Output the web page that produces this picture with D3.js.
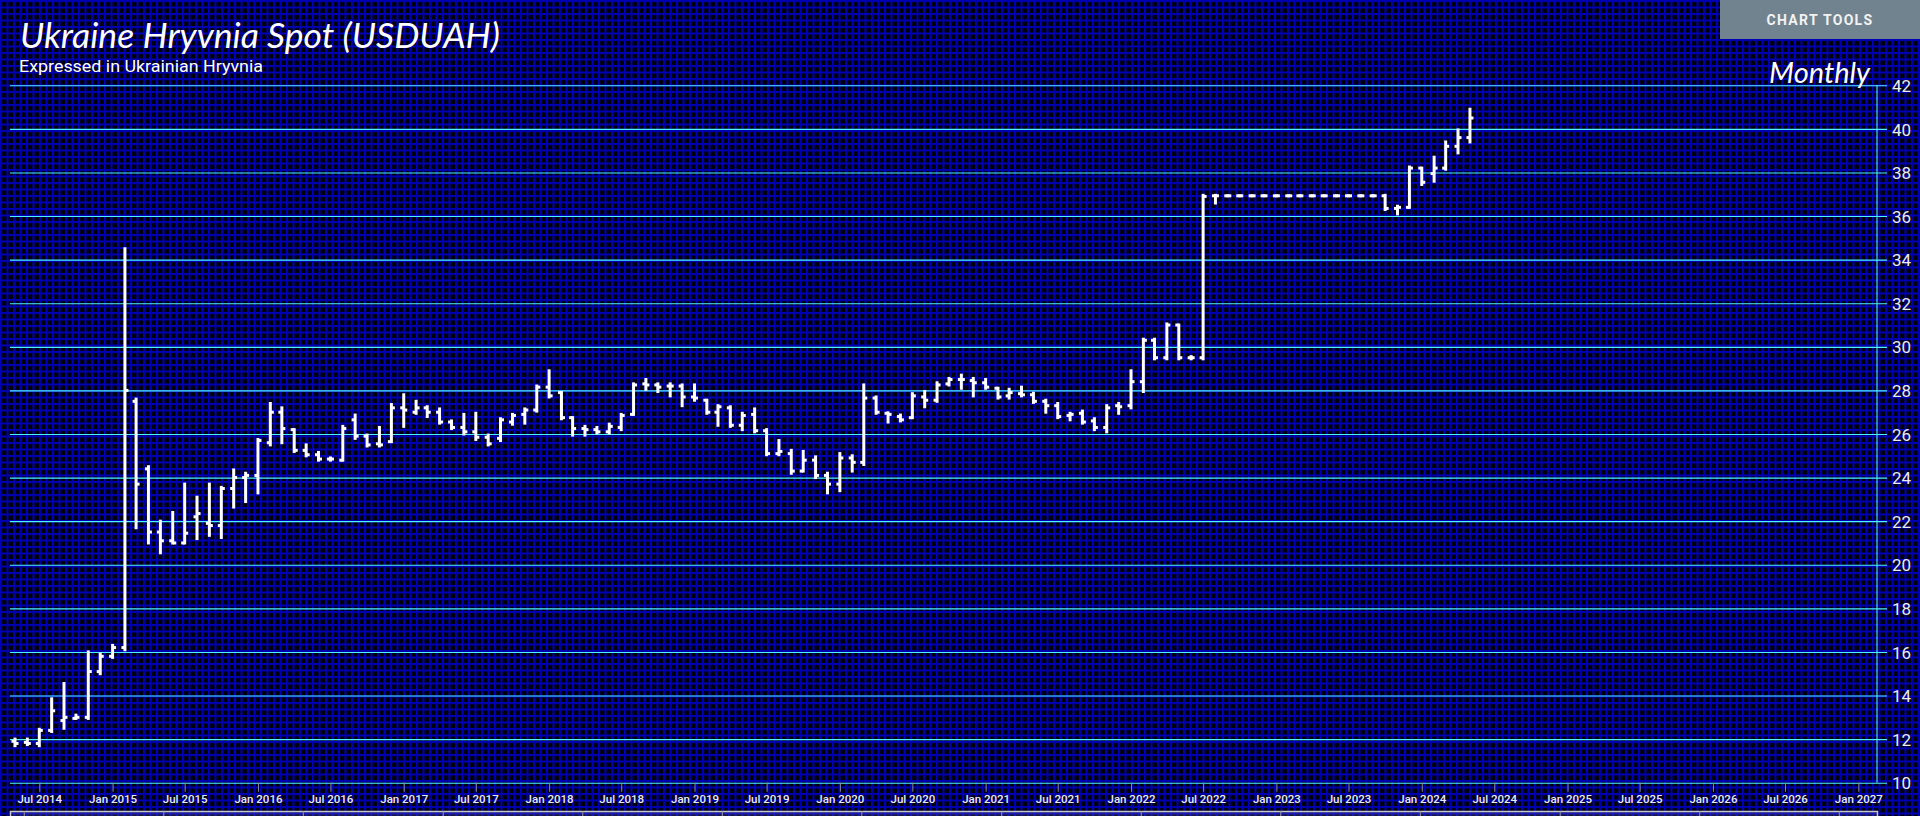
<!DOCTYPE html>
<html><head><meta charset="utf-8">
<script src="https://cdn.jsdelivr.net/npm/d3@7"></script>
<style>
html,body{margin:0;padding:0;background:#000;overflow:hidden;}
svg{display:block;}
</style></head><body>
<svg id="chart" width="1920" height="816"></svg>
<script>
// ---------- DATA ----------
const months = [
"2014-05","2014-06","2014-07","2014-08","2014-09","2014-10","2014-11","2014-12",
"2015-01","2015-02","2015-03","2015-04","2015-05","2015-06","2015-07","2015-08","2015-09","2015-10","2015-11","2015-12",
"2016-01","2016-02","2016-03","2016-04","2016-05","2016-06","2016-07","2016-08","2016-09","2016-10","2016-11","2016-12",
"2017-01","2017-02","2017-03","2017-04","2017-05","2017-06","2017-07","2017-08","2017-09","2017-10","2017-11","2017-12",
"2018-01","2018-02","2018-03","2018-04","2018-05","2018-06","2018-07","2018-08","2018-09","2018-10","2018-11","2018-12",
"2019-01","2019-02","2019-03","2019-04","2019-05","2019-06","2019-07","2019-08","2019-09","2019-10","2019-11","2019-12",
"2020-01","2020-02","2020-03","2020-04","2020-05","2020-06","2020-07","2020-08","2020-09","2020-10","2020-11","2020-12",
"2021-01","2021-02","2021-03","2021-04","2021-05","2021-06","2021-07","2021-08","2021-09","2021-10","2021-11","2021-12",
"2022-01","2022-02","2022-03","2022-04","2022-05","2022-06","2022-07","2022-08","2022-09","2022-10","2022-11","2022-12",
"2023-01","2023-02","2023-03","2023-04","2023-05","2023-06","2023-07","2023-08","2023-09","2023-10","2023-11","2023-12",
"2024-01","2024-02","2024-03","2024-04","2024-05"];
const openVals = [
11.9,11.85,11.8,12.4,12.85,12.95,13.0,15.1,
15.8,16.2,27.5,24.4,21.5,21.1,21.0,22.2,21.9,21.8,23.5,24.0,
24.1,25.6,27.0,26.2,25.25,25.05,24.85,24.8,26.65,25.9,25.55,25.65,
27.2,27.0,27.2,27.0,26.55,26.3,26.1,25.85,25.8,26.55,26.9,27.1,
28.15,27.9,26.75,26.25,26.2,26.1,26.3,26.9,28.3,28.25,28.2,28.2,
27.7,27.55,27.0,27.2,26.4,26.9,26.15,25.1,25.1,24.3,24.8,24.1,
23.7,24.9,24.7,27.65,26.95,26.8,26.75,27.7,27.55,28.3,28.5,28.45,
28.35,28.1,27.75,27.85,27.8,27.5,27.3,26.85,26.95,26.6,26.3,27.3,
27.3,28.4,30.3,29.5,31.0,29.5,29.5,36.93,36.93,36.93,36.93,36.93,
36.93,36.93,36.93,36.93,36.93,36.93,36.93,36.93,36.93,36.93,36.35,36.4,
38.2,37.95,38.2,39.2,39.6];
const highVals = [
12.0,12.0,12.45,13.85,14.55,13.1,16.0,15.9,
16.3,34.5,27.6,24.5,22.0,22.4,23.7,23.1,23.7,23.55,24.35,24.2,
25.75,27.4,27.2,26.2,25.5,25.15,24.9,26.35,26.87,25.95,26.3,27.35,
27.8,27.5,27.25,27.15,26.6,26.9,26.95,25.95,26.7,26.9,27.15,28.2,
28.9,27.9,26.75,26.35,26.3,26.45,26.9,28.3,28.5,28.3,28.3,28.25,
28.25,27.55,27.3,27.25,26.95,27.15,26.2,25.7,25.25,25.2,24.95,24.2,
25.1,25.0,28.25,27.7,26.97,26.87,27.85,27.95,28.35,28.55,28.7,28.55,
28.5,28.1,28.05,28.15,27.87,27.55,27.4,26.95,27.05,26.7,27.3,27.4,
28.9,30.35,30.35,31.05,31.0,29.55,36.95,36.95,36.93,36.93,36.93,36.93,
36.93,36.93,36.93,36.93,36.93,36.93,36.93,36.93,36.93,36.95,36.45,38.25,
38.2,38.7,39.4,39.95,40.9];
const lowVals = [
11.7,11.75,11.7,12.35,12.5,12.95,12.95,15.0,
15.75,16.1,21.7,21.0,20.55,21.0,21.0,21.2,21.35,21.25,22.65,22.9,
23.3,25.5,25.6,25.2,25.0,24.8,24.8,24.8,25.8,25.45,25.45,25.65,
26.35,26.95,26.8,26.5,26.25,26.0,25.75,25.5,25.7,26.45,26.5,27.05,
27.7,26.7,25.95,25.95,26.05,26.05,26.2,26.9,28.05,27.95,27.75,27.3,
27.55,26.95,26.4,26.35,26.2,26.1,25.05,25.05,24.2,24.3,24.0,23.3,
23.4,24.3,24.6,26.95,26.55,26.6,26.75,27.25,27.5,28.25,28.1,27.75,
28.1,27.65,27.65,27.75,27.45,27.0,26.75,26.65,26.5,26.2,26.1,26.95,
27.2,27.95,29.45,29.45,29.45,29.45,29.45,36.6,36.93,36.93,36.93,36.93,
36.93,36.93,36.93,36.93,36.93,36.93,36.93,36.93,36.93,36.3,36.1,36.4,
37.45,37.6,38.15,38.9,39.4];
const closeVals = [
11.8,11.8,12.4,13.3,13.0,13.0,15.1,15.8,
16.2,28.0,23.7,21.5,21.1,21.0,21.45,22.35,21.8,23.5,24.0,24.1,
25.7,27.0,26.25,25.25,25.05,24.85,24.85,26.25,25.9,25.5,25.5,27.2,
27.1,27.2,27.0,26.55,26.3,26.1,25.85,25.55,26.65,26.85,27.1,28.15,
27.75,26.75,26.25,26.2,26.1,26.35,26.85,28.25,28.25,28.15,28.2,27.7,
27.65,27.0,27.25,26.4,26.85,26.15,25.1,25.2,24.3,24.8,24.1,23.7,
24.9,24.7,27.65,27.0,26.9,26.65,27.75,27.55,28.25,28.5,28.5,28.35,
28.15,27.7,27.9,27.8,27.5,27.3,26.8,26.9,26.55,26.3,27.2,27.25,
28.4,30.3,29.5,31.0,29.5,29.5,36.9,36.93,36.93,36.93,36.93,36.93,
36.93,36.93,36.93,36.93,36.93,36.93,36.93,36.93,36.93,36.35,36.4,38.2,
37.55,38.2,39.2,39.6,40.5];
const yTickValues = [10,12,14,16,18,20,22,24,26,28,30,32,34,36,38,40,42];
const xTickLabels = ["Jul 2014","Jan 2015","Jul 2015","Jan 2016","Jul 2016","Jan 2017","Jul 2017","Jan 2018","Jul 2018","Jan 2019","Jul 2019","Jan 2020","Jul 2020","Jan 2021","Jul 2021","Jan 2022","Jul 2022","Jan 2023","Jul 2023","Jan 2024","Jul 2024","Jan 2025","Jul 2025","Jan 2026","Jul 2026","Jan 2027"];
const navTickYears = ["2014","2015","2016","2017","2018","2019","2020","2021","2022","2023","2024","2025","2026","2027"];
const titleText = "Ukraine Hryvnia Spot (USDUAH)";
const subtitleText = "Expressed in Ukrainian Hryvnia";
const periodText = "Monthly";
const buttonText = "CHART TOOLS";

// ---------- LAYOUT ----------
const W = 1920, H = 816;
const plotLeft = 10, plotRight = 1877;
const svg = d3.select("#chart");
const parseMonth = d3.utcParse("%Y-%m");
const parseLabel = d3.utcParse("%b %Y");

const x = d3.scaleUtc()
  .domain([new Date(Date.UTC(2014,6,1)), new Date(Date.UTC(2027,0,1))])
  .range([39.3, 1858.3]);
const y = d3.scaleLinear().domain([10,42]).range([782.7, 85.3]);
const xNav = d3.scaleUtc()
  .domain([new Date(Date.UTC(2013,10,26)), new Date(Date.UTC(2027,3,11))])
  .range([plotLeft, plotRight]);

// background grid pattern
const defs = svg.append("defs");
const pat = defs.append("pattern").attr("id","bggrid")
  .attr("patternUnits","userSpaceOnUse").attr("width",6.5).attr("height",6.5);
pat.append("rect").attr("width",6.5).attr("height",6.5).attr("fill","#00000a");
pat.append("rect").attr("width",2).attr("height",6.5).attr("fill","#0000b4");
pat.append("rect").attr("width",6.5).attr("height",2).attr("fill","#0000b4");
svg.append("rect").attr("width",W).attr("height",H).attr("fill","url(#bggrid)");

// navigator strip
svg.append("rect").attr("x",plotLeft).attr("y",811).attr("width",plotRight-plotLeft).attr("height",5)
  .attr("fill","rgba(120,120,200,0.22)");
const navAxis = d3.axisBottom(xNav)
  .tickValues(navTickYears.map(s => new Date(Date.UTC(+s,0,1))))
  .tickSize(6).tickFormat("");
const gNav = svg.append("g").attr("transform","translate(0,811)").call(navAxis);
gNav.select(".domain").attr("stroke","#c8c8c8").attr("stroke-width",1.5);
gNav.selectAll(".tick line").attr("stroke","#9a9a9a");

// y axis grid + labels
const yAxis = d3.axisRight(y).tickValues(yTickValues).tickSize(1877).tickPadding(5).tickFormat(d3.format("d"));
const gy = svg.append("g").attr("transform",`translate(${plotLeft},0)`).call(yAxis);
gy.select(".domain").remove();
gy.selectAll(".tick line").attr("stroke","#4cf4ff").attr("stroke-width",1.1);
gy.selectAll(".tick text").attr("fill","#ececec").attr("font-family","Roboto, 'Liberation Sans', sans-serif")
  .attr("font-size",17).attr("dy","0.36em");

// vertical axis line
svg.append("line").attr("x1",plotRight).attr("x2",plotRight).attr("y1",y(42)).attr("y2",y(10))
  .attr("stroke","#4cf4ff").attr("stroke-width",1.1);

// x axis
const xAxis = d3.axisBottom(x).tickValues(xTickLabels.map(parseLabel))
  .tickFormat(d3.utcFormat("%b %Y")).tickSize(9).tickPadding(3);
const gx = svg.append("g").attr("transform",`translate(0,${y(10)})`).call(xAxis);
gx.select(".domain").remove();
gx.selectAll(".tick line").attr("stroke","#8a8a9a").attr("stroke-width",1);
gx.selectAll(".tick text").attr("fill","#ebebeb").attr("font-family","Roboto, 'Liberation Sans', sans-serif")
  .attr("font-size",11.5).attr("font-weight",500);

// OHLC bars
const data = months.map((m,i)=>({d:parseMonth(m),o:openVals[i],h:highVals[i],l:lowVals[i],c:closeVals[i]}));
const bars = svg.append("g").attr("stroke","#ffffff").attr("stroke-width",3).attr("fill","none");
const g = bars.selectAll("g.bar").data(data).join("g").attr("class","bar");
g.append("line")
  .attr("x1",d=>x(d.d)).attr("x2",d=>x(d.d))
  .attr("y1",d=>y(d.h)-1.5).attr("y2",d=>y(d.l)+1.5);
g.append("line")
  .attr("x1",d=>x(d.d)-3.5).attr("x2",d=>x(d.d))
  .attr("y1",d=>y(d.o)).attr("y2",d=>y(d.o));
g.append("line")
  .attr("x1",d=>x(d.d)).attr("x2",d=>x(d.d)+3.5)
  .attr("y1",d=>y(d.c)).attr("y2",d=>y(d.c));

// titles
svg.append("text").attr("x",20).attr("y",48).text(titleText)
  .attr("font-family","Lato, 'Open Sans', sans-serif").attr("font-style","italic").attr("font-weight",400)
  .attr("font-size",35).attr("fill","#ffffff").attr("textLength",480).attr("lengthAdjust","spacingAndGlyphs");
svg.append("text").attr("x",19).attr("y",72).text(subtitleText)
  .attr("font-family","Roboto, sans-serif").attr("font-size",16).attr("fill","#ffffff")
  .attr("textLength",244).attr("lengthAdjust","spacingAndGlyphs");
svg.append("text").attr("x",1870).attr("y",83).attr("text-anchor","end").text(periodText)
  .attr("font-family","Lato, 'Open Sans', sans-serif").attr("font-style","italic").attr("font-weight",400)
  .attr("font-size",29).attr("fill","#ffffff");

// chart tools button
svg.append("rect").attr("x",1720).attr("y",0).attr("width",200).attr("height",39).attr("fill","#71838f");
svg.append("text").attr("x",1820).attr("y",25).attr("text-anchor","middle").text(buttonText)
  .attr("font-family","Roboto, sans-serif").attr("font-weight",700).attr("font-size",14)
  .attr("letter-spacing",1.3).attr("fill","#f2f2f2");
</script>
</body></html>
